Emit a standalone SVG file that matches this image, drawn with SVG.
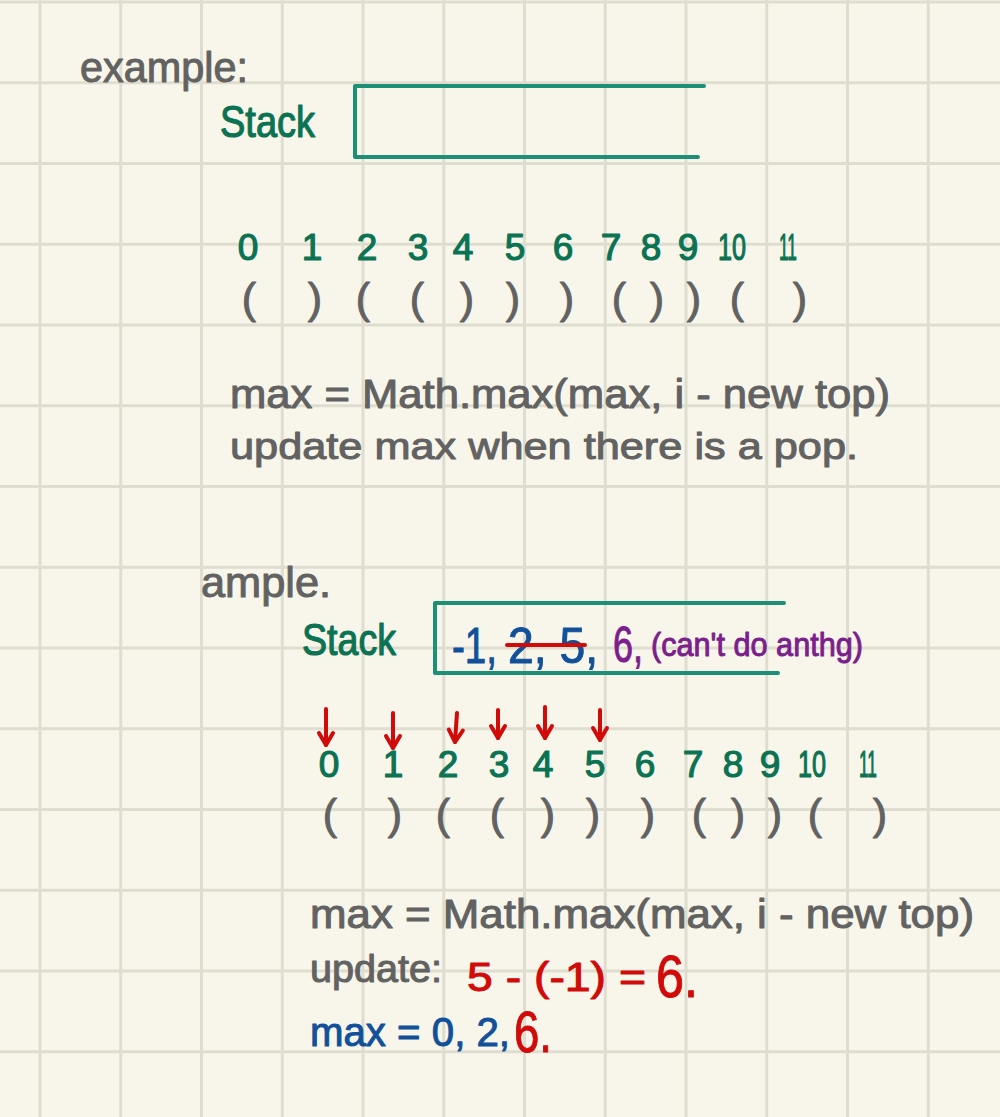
<svg xmlns="http://www.w3.org/2000/svg" width="1000" height="1117" viewBox="0 0 1000 1117">
<defs>
<style>
.grid line{stroke:#dfddd0;stroke-width:3}
.t{font-family:"Liberation Sans","DejaVu Sans",sans-serif;}
.gray{fill:#626262;stroke:#626262;stroke-width:1;stroke-linejoin:round}
.green{fill:#0b7353;stroke:#0b7353;stroke-width:1.2;stroke-linejoin:round}
.blue{fill:#12509a;stroke:#12509a;stroke-width:1;stroke-linejoin:round}
.red{fill:#d10a0a;stroke:#d10a0a;stroke-width:1;stroke-linejoin:round}
.purple{fill:#7b1f8c;stroke:#7b1f8c;stroke-width:1;stroke-linejoin:round}
.idx{font-size:37px;text-anchor:middle}
.par{font-size:43px;text-anchor:middle}
.box{fill:none;stroke:#1d8f76;stroke-width:4;stroke-linecap:round;stroke-linejoin:round}
.arrow{fill:none;stroke:#d10a0a;stroke-width:4;stroke-linecap:round}
</style>
<marker id="vhead" markerUnits="userSpaceOnUse" markerWidth="30" markerHeight="30" orient="auto" overflow="visible">
<path d="M-12,-7 L0,0 L-12,7" fill="none" stroke="#d10a0a" stroke-width="4" stroke-linecap="round" stroke-linejoin="round"/>
</marker>
</defs>
<rect x="0" y="0" width="1000" height="1117" fill="#f8f6ea"/>
<g class="grid">
<line x1="40" y1="0" x2="40" y2="1117"/>
<line x1="120.75" y1="0" x2="120.75" y2="1117"/>
<line x1="201.5" y1="0" x2="201.5" y2="1117"/>
<line x1="282.25" y1="0" x2="282.25" y2="1117"/>
<line x1="363" y1="0" x2="363" y2="1117"/>
<line x1="443.75" y1="0" x2="443.75" y2="1117"/>
<line x1="524.5" y1="0" x2="524.5" y2="1117"/>
<line x1="605.25" y1="0" x2="605.25" y2="1117"/>
<line x1="686" y1="0" x2="686" y2="1117"/>
<line x1="766.75" y1="0" x2="766.75" y2="1117"/>
<line x1="847.5" y1="0" x2="847.5" y2="1117"/>
<line x1="928.25" y1="0" x2="928.25" y2="1117"/>
<line x1="0" y1="2" x2="1000" y2="2"/>
<line x1="0" y1="82.75" x2="1000" y2="82.75"/>
<line x1="0" y1="163.5" x2="1000" y2="163.5"/>
<line x1="0" y1="244.25" x2="1000" y2="244.25"/>
<line x1="0" y1="325" x2="1000" y2="325"/>
<line x1="0" y1="405.75" x2="1000" y2="405.75"/>
<line x1="0" y1="486.5" x2="1000" y2="486.5"/>
<line x1="0" y1="567.25" x2="1000" y2="567.25"/>
<line x1="0" y1="648" x2="1000" y2="648"/>
<line x1="0" y1="728.75" x2="1000" y2="728.75"/>
<line x1="0" y1="809.5" x2="1000" y2="809.5"/>
<line x1="0" y1="890.25" x2="1000" y2="890.25"/>
<line x1="0" y1="971" x2="1000" y2="971"/>
<line x1="0" y1="1051.75" x2="1000" y2="1051.75"/>
</g>

<g id="heading-example">
<text class="t gray" x="80" y="82" font-size="42" textLength="168" lengthAdjust="spacingAndGlyphs">example:</text>
</g>
<g id="stack-1">
<text class="t green" x="220" y="137" font-size="44" textLength="95" lengthAdjust="spacingAndGlyphs">Stack</text>
<path class="box" d="M704,86 H355 V157 H698"/>
</g>
<g id="indices-1">
<text class="t green idx" x="248" y="260">0</text>
<text class="t green idx" x="312" y="260">1</text>
<text class="t green idx" x="367" y="260">2</text>
<text class="t green idx" x="418" y="260">3</text>
<text class="t green idx" x="463" y="260">4</text>
<text class="t green idx" x="515" y="260">5</text>
<text class="t green idx" x="563" y="260">6</text>
<text class="t green idx" x="611" y="260">7</text>
<text class="t green idx" x="651" y="260">8</text>
<text class="t green idx" x="688" y="260">9</text>
<text class="t green idx" x="732" y="260" textLength="28" lengthAdjust="spacingAndGlyphs">10</text>
<text class="t green idx" x="788" y="260" textLength="18" lengthAdjust="spacingAndGlyphs">11</text>
</g>
<g id="parens-1">
<text class="t gray par" x="249" y="313">(</text>
<text class="t gray par" x="315" y="313">)</text>
<text class="t gray par" x="363" y="313">(</text>
<text class="t gray par" x="417" y="313">(</text>
<text class="t gray par" x="467" y="313">)</text>
<text class="t gray par" x="513" y="313">)</text>
<text class="t gray par" x="567" y="313">)</text>
<text class="t gray par" x="619" y="313">(</text>
<text class="t gray par" x="657" y="313">)</text>
<text class="t gray par" x="694" y="313">)</text>
<text class="t gray par" x="737" y="313">(</text>
<text class="t gray par" x="800" y="313">)</text>
</g>
<g id="formula-1">
<text class="t gray" x="230" y="408" font-size="40" textLength="660" lengthAdjust="spacingAndGlyphs">max = Math.max(max, i - new top)</text>
<text class="t gray" x="230" y="459" font-size="37" textLength="628" lengthAdjust="spacingAndGlyphs">update max when there is a pop.</text>
</g>

<g id="heading-ample">
<text class="t gray" x="201" y="597" font-size="42" textLength="130" lengthAdjust="spacingAndGlyphs">ample.</text>
</g>
<g id="stack-2">
<text class="t green" x="302" y="655" font-size="44" textLength="94" lengthAdjust="spacingAndGlyphs">Stack</text>
<path class="box" d="M784,603 H435 V673 H778"/>
<text class="t blue" x="452" y="663" font-size="50" textLength="45" lengthAdjust="spacingAndGlyphs">-1,</text>
<text class="t blue" x="508" y="663" font-size="50" textLength="90" lengthAdjust="spacingAndGlyphs">2, 5,</text>
<line x1="507" y1="645" x2="585" y2="645" stroke="#d10a0a" stroke-width="4" stroke-linecap="round"/>
<text class="t purple" x="613" y="662" font-size="50" textLength="30" lengthAdjust="spacingAndGlyphs">6,</text>
<text class="t purple" x="651" y="656" font-size="34" textLength="212" lengthAdjust="spacingAndGlyphs">(can't do anthg)</text>
</g>
<g id="connectors">
<line class="arrow" x1="326" y1="709" x2="326" y2="745" marker-end="url(#vhead)"/>
<line class="arrow" x1="393" y1="713" x2="393" y2="748" marker-end="url(#vhead)"/>
<line class="arrow" x1="457" y1="713" x2="455" y2="742" marker-end="url(#vhead)"/>
<line class="arrow" x1="498" y1="710" x2="498" y2="738" marker-end="url(#vhead)"/>
<line class="arrow" x1="545" y1="707" x2="545" y2="738" marker-end="url(#vhead)"/>
<line class="arrow" x1="600" y1="710" x2="600" y2="740" marker-end="url(#vhead)"/>
</g>
<g id="indices-2">
<text class="t green idx" x="329" y="777">0</text>
<text class="t green idx" x="393" y="777">1</text>
<text class="t green idx" x="448" y="777">2</text>
<text class="t green idx" x="499" y="777">3</text>
<text class="t green idx" x="543" y="777">4</text>
<text class="t green idx" x="595" y="777">5</text>
<text class="t green idx" x="645" y="777">6</text>
<text class="t green idx" x="693" y="777">7</text>
<text class="t green idx" x="733" y="777">8</text>
<text class="t green idx" x="770" y="777">9</text>
<text class="t green idx" x="812" y="777" textLength="28" lengthAdjust="spacingAndGlyphs">10</text>
<text class="t green idx" x="868" y="777" textLength="18" lengthAdjust="spacingAndGlyphs">11</text>
</g>
<g id="parens-2">
<text class="t gray par" x="330" y="829">(</text>
<text class="t gray par" x="395" y="829">)</text>
<text class="t gray par" x="443" y="829">(</text>
<text class="t gray par" x="497" y="829">(</text>
<text class="t gray par" x="548" y="829">)</text>
<text class="t gray par" x="593" y="829">)</text>
<text class="t gray par" x="648" y="829">)</text>
<text class="t gray par" x="699" y="829">(</text>
<text class="t gray par" x="738" y="829">)</text>
<text class="t gray par" x="775" y="829">)</text>
<text class="t gray par" x="815" y="829">(</text>
<text class="t gray par" x="880" y="829">)</text>
</g>
<g id="formula-2">
<text class="t gray" x="310" y="928" font-size="40" textLength="664" lengthAdjust="spacingAndGlyphs">max = Math.max(max, i - new top)</text>
</g>
<g id="update-2">
<text class="t gray" x="310" y="982" font-size="38" textLength="132" lengthAdjust="spacingAndGlyphs">update:</text>
<text class="t red" x="467" y="991" font-size="40" textLength="179" lengthAdjust="spacingAndGlyphs">5 - (-1) =</text>
<text class="t red" x="656" y="997" font-size="60" textLength="42" lengthAdjust="spacingAndGlyphs">6.</text>
</g>
<g id="max-2">
<text class="t blue" x="310" y="1046" font-size="40" textLength="200" lengthAdjust="spacingAndGlyphs">max = 0, 2,</text>
<text class="t red" x="514" y="1052" font-size="58" textLength="38" lengthAdjust="spacingAndGlyphs">6.</text>
</g>
</svg>
